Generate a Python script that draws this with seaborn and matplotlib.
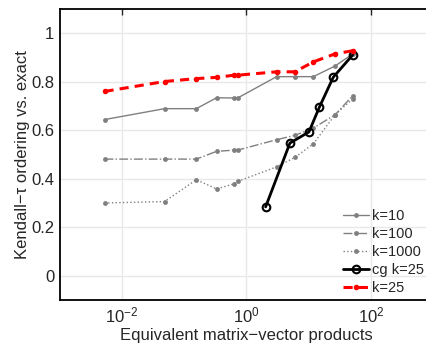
import matplotlib
matplotlib.use("Agg")
import matplotlib.pyplot as plt
import seaborn as sns
import pandas as pd
import numpy as np

# ---- data ----
x_k = [0.0052, 0.048, 0.156, 0.33, 0.63, 0.72, 3.05, 6.0, 11.9, 26.6, 51.3]
k10 = [0.644, 0.689, 0.689, 0.734, 0.733, 0.733, 0.821, 0.821, 0.821, 0.865, 0.915]
k100 = [0.481, 0.481, 0.481, 0.513, 0.518, 0.518, 0.561, 0.579, 0.609, 0.664, 0.743]
k1000 = [0.300, 0.306, 0.396, 0.358, 0.379, 0.389, 0.449, 0.488, 0.544, 0.664, 0.730]
k25 = [0.760, 0.801, 0.813, 0.818, 0.827, 0.827, 0.841, 0.841, 0.882, 0.915, 0.928]
cg_x = [2.03, 4.99, 10.1, 14.8, 24.9, 51.3]
cg_k25 = [0.284, 0.547, 0.593, 0.694, 0.819, 0.911]

labels = ["k=10", "k=100", "k=1000", "cg k=25", "k=25"]
yticks = [0, 0.2, 0.4, 0.6, 0.8, 1]
ytick_labels = ["0", "0.2", "0.4", "0.6", "0.8", "1"]
xticks = [1e-2, 1e0, 1e2]
xtick_labels = [r"$10^{-2}$", r"$10^{0}$", r"$10^{2}$"]

sns.set_style("white")
plt.rcParams["font.family"] = ["Liberation Sans", "DejaVu Sans"]
plt.rcParams["mathtext.fontset"] = "custom"
plt.rcParams["mathtext.rm"] = "Liberation Sans"
plt.rcParams["mathtext.it"] = "Liberation Sans"

fig = plt.figure(figsize=(4.27, 3.5), dpi=100)
ax = fig.add_axes([60/427, 1 - 300/350, (433 - 60)/427, (300 - 9)/350])

gray = "#808080"
series = [
    (x_k, k10, dict(color=gray, linestyle="-", linewidth=1.0, marker="o", markersize=3.5,
                    markeredgewidth=0, markerfacecolor=gray)),
    (x_k, k100, dict(color=gray, linestyle="-.", linewidth=1.0, marker="o", markersize=3.5,
                     markeredgewidth=0, markerfacecolor=gray)),
    (x_k, k1000, dict(color=gray, linestyle=":", linewidth=1.0, marker="o", markersize=3.5,
                      markeredgewidth=0, markerfacecolor=gray)),
    (cg_x, cg_k25, dict(color="black", linestyle="-", linewidth=2.0, marker="o", markersize=5.5,
                        markeredgewidth=1.5, markerfacecolor="none", markeredgecolor="black")),
    (x_k, k25, dict(color="red", linestyle=(0, (3, 2)), linewidth=2.2, marker="o", markersize=4,
                    markeredgewidth=0, markerfacecolor="red")),
]
for (xs, ys, st), lab in zip(series, labels):
    df = pd.DataFrame({"x": xs, "y": ys})
    sns.lineplot(data=df, x="x", y="y", ax=ax, sort=False, estimator=None, label=lab, **st)

ax.set_xscale("log")
ax.set_xlim(1e-3, 1e3)
ax.set_ylim(-0.1, 1.1)
ax.set_xticks(xticks)
ax.set_xticklabels(xtick_labels)
ax.set_yticks(yticks)
ax.set_yticklabels(ytick_labels)
ax.minorticks_off()
ax.grid(True, color="#e8e8e8", linewidth=1.0)
ax.set_axisbelow(True)
ax.tick_params(axis="both", direction="in", labelsize=12, length=4, width=1,
               top=True, right=False, pad=4)
for s in ["top", "left", "bottom"]:
    ax.spines[s].set_visible(True)
    ax.spines[s].set_linewidth(1.3)
    ax.spines[s].set_color("black")
ax.spines["right"].set_visible(False)

ax.set_xlabel("Equivalent matrix\u2212vector products", fontsize=12, labelpad=2)
ax.set_ylabel("Kendall\u2212\u03c4 ordering vs. exact", fontsize=12, labelpad=1)

leg = ax.legend(loc="lower left", bbox_to_anchor=(343/427, 1 - 295/350),
                bbox_transform=fig.transFigure, frameon=False, fontsize=10.5,
                handlelength=1.8, handletextpad=0.2, labelspacing=0.28,
                borderpad=0, borderaxespad=0)

fig.savefig("out.png", dpi=100)
